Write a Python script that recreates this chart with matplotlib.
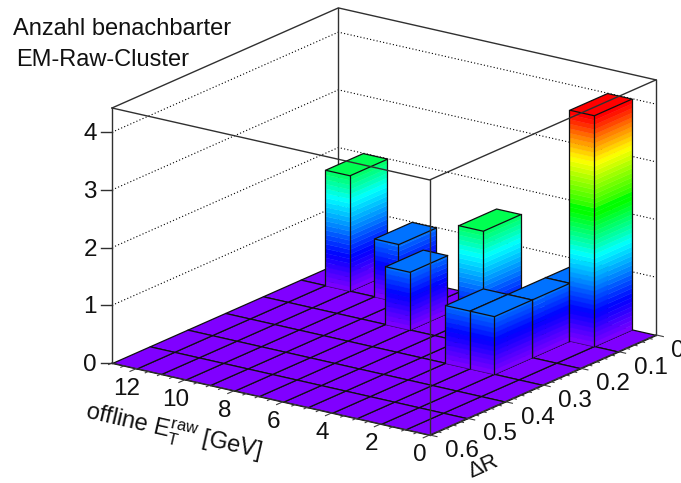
import numpy as np
import matplotlib
matplotlib.use("Agg")
from matplotlib import pyplot as plt
from matplotlib.colors import LinearSegmentedColormap
from matplotlib.lines import Line2D
from mpl_toolkits.mplot3d import proj3d
from mpl_toolkits.mplot3d.art3d import Poly3DCollection

plt.rcParams['font.family'] = ['Liberation Sans', 'DejaVu Sans']
plt.rcParams['mathtext.fontset'] = 'custom'
plt.rcParams['mathtext.rm'] = 'Liberation Sans'
plt.rcParams['mathtext.default'] = 'regular'

# histogram binning
et_edges = np.arange(0, 14)
dr_edges = np.arange(0, 7) * 0.1

# filled bins: lower edge in E_T, lower edge in dR, content
bar_et = [1, 2, 2, 2, 3, 4, 7, 9, 11]
bar_dr = [0.0, 0.0, 0.1, 0.2, 0.2, 0.1, 0.1, 0.0, 0.0]
bar_height = [4, 1, 1, 1, 1, 2, 1, 1, 2]

et_ticks = [0, 2, 4, 6, 8, 10, 12]
dr_ticks = [0, 0.1, 0.2, 0.3, 0.4, 0.5, 0.6]
dr_labels = ["0", "0.1", "0.2", "0.3", "0.4", "0.5", "0.6"]
z_ticks = [0, 1, 2, 3, 4]
z_top = 4.42

palette_z = [0, 0.57, 1.54, 2.27, 3.19, 3.95, 4.0]
palette_col = ["#8000ff", "#0000ff", "#00ffff", "#00ff00", "#ffff00", "#ff0000", "#ff0000"]
n_levels = 50

W, H = 681, 483
cmap = LinearSegmentedColormap.from_list(
    "rainbow_root", [(z / 4.0, c) for z, c in zip(palette_z, palette_col)])
levels = np.linspace(0, 4, n_levels + 1)


def level_color(z):
    i = min(int(z / 4.0 * n_levels), n_levels - 1)
    return cmap((i + 0.5) / n_levels)


fig = plt.figure(figsize=(W / 100, H / 100), dpi=100)
ax = fig.add_axes([0, 0, 600 / W, 600 / H], projection='3d', proj_type='ortho', computed_zorder=False)
ax.set_box_aspect((390.6, 388.8, 268.8))
ax.view_init(elev=18.45, azim=125.6)
ax.set_xlim(0, 13, view_margin=0)
ax.set_ylim(0, 0.6, view_margin=0)
ax.set_zlim(0, z_top, view_margin=0)
ax.set_axis_off()
ax.patch.set_alpha(0)


def to_px(x, y, z):
    # data -> display pixels, origin bottom left
    x2, y2, _ = proj3d.proj_transform(x, y, z, ax.get_proj())
    return ax.transData.transform((x2, y2))


# fit the box on the wanted corners
fig.canvas.draw()
p_left = to_px(13, 0.6, 0)
p_right = to_px(0, 0, 0)
k = (656 - 112) / (p_right[0] - p_left[0])
ax.set_position([(112 - k * p_left[0]) / W, (H - 363 - k * p_left[1]) / H, k * 600 / W, k * 600 / H])
fig.canvas.draw()

order = [0]


def add_poly(verts, face, edge="none", lw=0.0):
    order[0] += 1
    col = Poly3DCollection([verts], facecolors=[face], edgecolors=[edge if edge != "none" else face],
                           linewidths=lw if edge != "none" else 0.3, zorder=order[0])
    ax.add_collection3d(col, autolim=False)


def add_line(xs, ys, zs, **kw):
    order[0] += 1
    ax.plot(xs, ys, zs, zorder=order[0], **kw)


frame = dict(color="#303030", lw=1.0)
dots = dict(color="black", lw=0.8, ls=(0, (1, 2)))

# back walls
for z in z_ticks[1:]:
    add_line([13, 13, 0], [0.6, 0, 0], [z, z, z], **dots)
add_line([13, 13], [0.6, 0.6], [0, z_top], **frame)
add_line([13, 13], [0, 0], [0, z_top], **frame)
add_line([0, 0], [0, 0], [0, z_top], **frame)
add_line([13, 13, 0], [0.6, 0, 0], [z_top, z_top, z_top], **frame)

# floor
for i in range(len(et_edges) - 1):
    for j in range(len(dr_edges) - 1):
        x0, x1 = et_edges[i], et_edges[i + 1]
        y0, y1 = dr_edges[j], dr_edges[j + 1]
        add_poly([(x0, y0, 0), (x1, y0, 0), (x1, y1, 0), (x0, y1, 0)], "#8000ff", "#101010", 0.9)

# bars, back to front
for b in sorted(range(len(bar_et)), key=lambda n: (-bar_et[n], bar_dr[n])):
    x0, x1 = bar_et[b], bar_et[b] + 1
    y0, y1 = bar_dr[b], bar_dr[b] + 0.1
    h = bar_height[b]
    for lo, hi in zip(levels[:-1], levels[1:]):
        if lo >= h:
            break
        c = level_color(lo)
        hi = min(hi, h)
        add_poly([(x0, y0, lo), (x0, y1, lo), (x0, y1, hi), (x0, y0, hi)], c)
        add_poly([(x0, y1, lo), (x1, y1, lo), (x1, y1, hi), (x0, y1, hi)], c)
    edge = dict(color="#101010", lw=0.9)
    add_line([x0, x0], [y0, y0], [0, h], **edge)
    add_line([x0, x0], [y1, y1], [0, h], **edge)
    add_line([x1, x1], [y1, y1], [0, h], **edge)
    add_poly([(x0, y0, h), (x1, y0, h), (x1, y1, h), (x0, y1, h)], level_color(min(h, 3.99)), "#101010", 0.9)

# front of the box goes over the bars
add_line([13, 0, 0], [0.6, 0.6, 0], [z_top, z_top, z_top], **frame)
add_line([0, 0], [0.6, 0.6], [0, z_top], **frame)
add_line([13, 0, 0], [0.6, 0.6, 0], [0, 0, 0], color="#303030", lw=0.8)

# E_T axis ticks
for t in np.arange(0, 13.01, 0.5):
    L = 0.017 if t % 2 == 0 else 0.009
    add_line([t, t], [0.6, 0.6 + L], [0, 0], color="#404040", lw=0.8)
# dR axis ticks
for t in np.arange(0, 0.601, 0.02):
    L = 0.3 if abs(t * 10 - round(t * 10)) < 1e-6 else 0.15
    add_line([0, -L], [t, t], [0, 0], color="#404040", lw=0.8)


def put_text(px, py, s, **kw):
    # px, py in display pixels
    fig.text(px / W, py / H, s, fontsize=kw.pop("fontsize", 17), color="#111111", **kw)


for t in z_ticks:
    p = to_px(13, 0.6, t)
    fig.add_artist(Line2D([(p[0] - 11) / W, p[0] / W], [p[1] / H, p[1] / H], color="#303030", lw=1.0))
    put_text(p[0] - 15, p[1] - 2, str(t), ha="right", va="center", fontsize=17.5)
for t in et_ticks:
    p = to_px(t, 0.6, 0)
    put_text(p[0] - 9.5, p[1] - 20, str(t), ha="center", va="center", fontsize=17.5)
for t, s in zip(dr_ticks, dr_labels):
    p = to_px(0, t, 0)
    put_text(p[0] + 15.5, p[1] - 16, s, ha="left", va="center", fontsize=17.5)

put_text(173, H - 433, r"offline $E_{T}^{raw}$ [GeV]", ha="center", va="center", rotation=-13,
         rotation_mode="anchor")
put_text(483, H - 467, "\u0394R", ha="center", va="center", rotation=24, rotation_mode="anchor", fontsize=16)
put_text(13, H - 35, "Anzahl benachbarter", ha="left", va="baseline")
put_text(16, H - 65.5, "EM-Raw-Cluster", ha="left", va="baseline")

fig.savefig("out.png", dpi=100)
